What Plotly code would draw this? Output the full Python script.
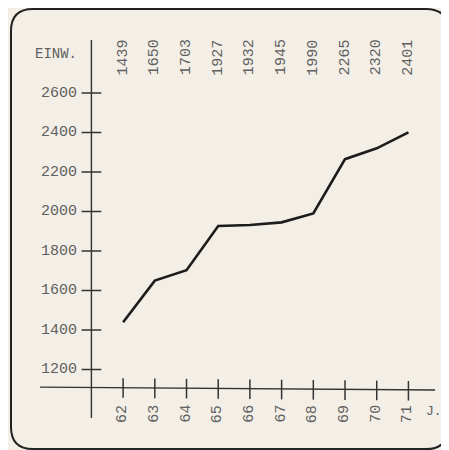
import plotly.graph_objects as go

years = [62, 63, 64, 65, 66, 67, 68, 69, 70, 71]
population = [1439, 1650, 1703, 1927, 1932, 1945, 1990, 2265, 2320, 2401]
y_ticks = [1200, 1400, 1600, 1800, 2000, 2200, 2400, 2600]
x_tick_labels = ["62", "63", "64", "65", "66", "67", "68", "69", "70", "71"]
value_labels = ["1439", "1650", "1703", "1927", "1932", "1945", "1990", "2265", "2320", "2401"]

# page body adds an 8px offset, so the figure is a bit smaller than the window
W, H = 441, 442
X_RANGE = [58.369, 72.28]
Y_RANGE = [792.4, 3030.4]
Y_AXIS_X = 61.0
X_AXIS_Y = 1106
TOP_LABEL_Y = 2780
BOTTOM_LABEL_Y = 975

INK = "#1c1c1c"
TEXT = "#606060"
BG = "#f3efe7"
FONT = "Liberation Mono"

fig = go.Figure()

# axis lines
fig.add_trace(go.Scatter(x=[Y_AXIS_X, Y_AXIS_X], y=[2868, 954], mode="lines",
                         line=dict(color="#333", width=1.4), hoverinfo="skip", showlegend=False))
fig.add_trace(go.Scatter(x=[59.38, 71.84], y=[X_AXIS_Y + 5, X_AXIS_Y - 10], mode="lines",
                         line=dict(color="#333", width=1.4), hoverinfo="skip", showlegend=False))

# tick marks
fig.add_trace(go.Scatter(x=[Y_AXIS_X] * len(y_ticks), y=y_ticks, mode="markers",
                         marker=dict(symbol="line-ew", size=14, line=dict(color="#333", width=1.5)),
                         hoverinfo="skip", showlegend=False))
fig.add_trace(go.Scatter(x=years, y=[X_AXIS_Y - (y - 62) * 1.5 for y in years], mode="markers",
                         marker=dict(symbol="line-ns", size=14, line=dict(color="#333", width=1.5)),
                         hoverinfo="skip", showlegend=False))

# data line
fig.add_trace(go.Scatter(x=years, y=population, mode="lines",
                         line=dict(color=INK, width=2.6), showlegend=False))

annotations = []
for t in y_ticks:
    annotations.append(dict(x=60.6, y=t, xref="x", yref="y", text=str(t), showarrow=False,
                            xanchor="right", yanchor="middle",
                            font=dict(family=FONT, size=15, color=TEXT)))
for yr, lab in zip(years, value_labels):
    annotations.append(dict(x=yr, y=TOP_LABEL_Y, xref="x", yref="y", text=lab, showarrow=False,
                            textangle=-90, xanchor="center", yanchor="middle",
                            font=dict(family=FONT, size=15, color=TEXT)))
for yr, lab in zip(years, x_tick_labels):
    annotations.append(dict(x=yr, y=BOTTOM_LABEL_Y, xref="x", yref="y", text=lab, showarrow=False,
                            textangle=-90, xanchor="center", yanchor="middle",
                            font=dict(family=FONT, size=15, color=TEXT)))
annotations.append(dict(x=60.6, y=2795, xref="x", yref="y", text="EINW.", showarrow=False,
                        xanchor="right", yanchor="middle",
                        font=dict(family=FONT, size=14, color=TEXT)))
annotations.append(dict(x=71.5, y=985, xref="x", yref="y", text="J.", showarrow=False,
                        xanchor="left", yanchor="middle",
                        font=dict(family=FONT, size=13, color=TEXT)))

# rounded border (paper coords from figure pixels)
def fx(px):
    return px / W
def fy(py):
    return 1 - py / H

x0, x1, y0, y1, r = 3, 440, 1, 441, 22
path = (f"M {fx(x0 + r)},{fy(y0)} L {fx(x1 - r)},{fy(y0)} "
        f"Q {fx(x1)},{fy(y0)} {fx(x1)},{fy(y0 + r)} "
        f"L {fx(x1)},{fy(y1 - r)} Q {fx(x1)},{fy(y1)} {fx(x1 - r)},{fy(y1)} "
        f"L {fx(x0 + r)},{fy(y1)} Q {fx(x0)},{fy(y1)} {fx(x0)},{fy(y1 - r)} "
        f"L {fx(x0)},{fy(y0 + r)} Q {fx(x0)},{fy(y0)} {fx(x0 + r)},{fy(y0)} Z")

fig.update_layout(
    width=W, height=H,
    margin=dict(l=0, r=0, t=0, b=0),
    paper_bgcolor=BG, plot_bgcolor=BG,
    xaxis=dict(range=X_RANGE, visible=False, fixedrange=True),
    yaxis=dict(range=Y_RANGE, visible=False, fixedrange=True),
    annotations=annotations,
    shapes=[dict(type="path", path=path, xref="paper", yref="paper",
                 line=dict(color="#222", width=2))],
    showlegend=False,
)

fig.write_html("out.html")
